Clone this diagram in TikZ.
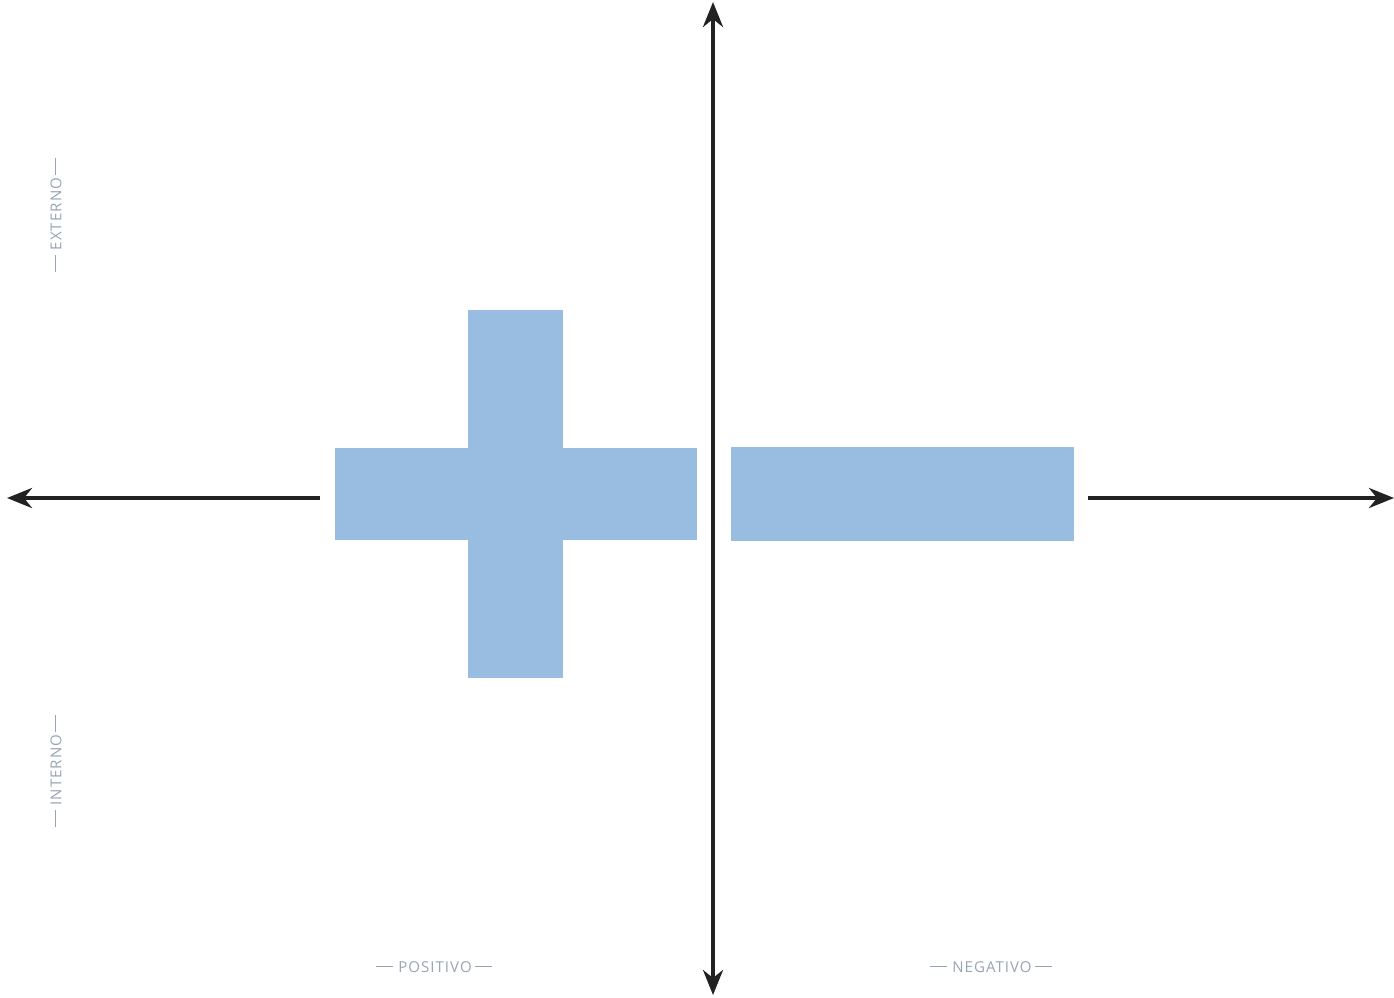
\documentclass[tikz,border=0pt]{standalone}
\usepackage{fontspec}
\setmainfont{Open Sans}[LetterSpace=7]
\usetikzlibrary{arrows.meta}
\definecolor{barblue}{HTML}{99BDE0}
\definecolor{labgray}{HTML}{97A4B3}
\definecolor{axisblack}{HTML}{222222}
\newcommand{\labdash}{\rule[5pt]{17pt}{1.4pt}}
\newcommand{\labtext}[1]{\labdash\hspace{5pt}#1\hspace{3pt}\labdash}
\tikzset{
  axis/.style={draw=axisblack, line width=4pt, -{Stealth[length=25pt,width=20pt,inset=8pt]}},
  bar/.style={fill=barblue, draw=none},
  lab/.style={text=labgray, font=\fontsize{15}{17}\selectfont, inner sep=0pt},
}
\begin{document}
\begin{tikzpicture}[x=1pt,y=-1pt]
\useasboundingbox (0,0) rectangle (1394,997);
% shapes
\fill[bar] (335,448) rectangle (697,540);
\fill[bar] (468,310) rectangle (563,678);
\fill[bar] (731,447) rectangle (1074,541);
% axes
\coordinate (vtop) at (713,2);
\coordinate (vbot) at (713,995);
\coordinate (vmid) at (713,498);
\coordinate (lstart) at (320,498);
\coordinate (lend) at (7,498);
\coordinate (rstart) at (1088,498);
\coordinate (rend) at (1394,498);
\draw[axis] (vmid) -- (vtop);
\draw[axis] (vmid) -- (vbot);
\draw[axis] (lstart) -- (lend);
\draw[axis] (rstart) -- (rend);
% labels
\node[lab, rotate=90] (ext) at (56,215) {\labtext{EXTERNO}};
\node[lab, rotate=90] (int) at (56,771) {\labtext{INTERNO}};
\node[lab] (pos) at (434,967) {\labtext{POSITIVO}};
\node[lab] (neg) at (991,967) {\labtext{NEGATIVO}};
\end{tikzpicture}
\end{document}
